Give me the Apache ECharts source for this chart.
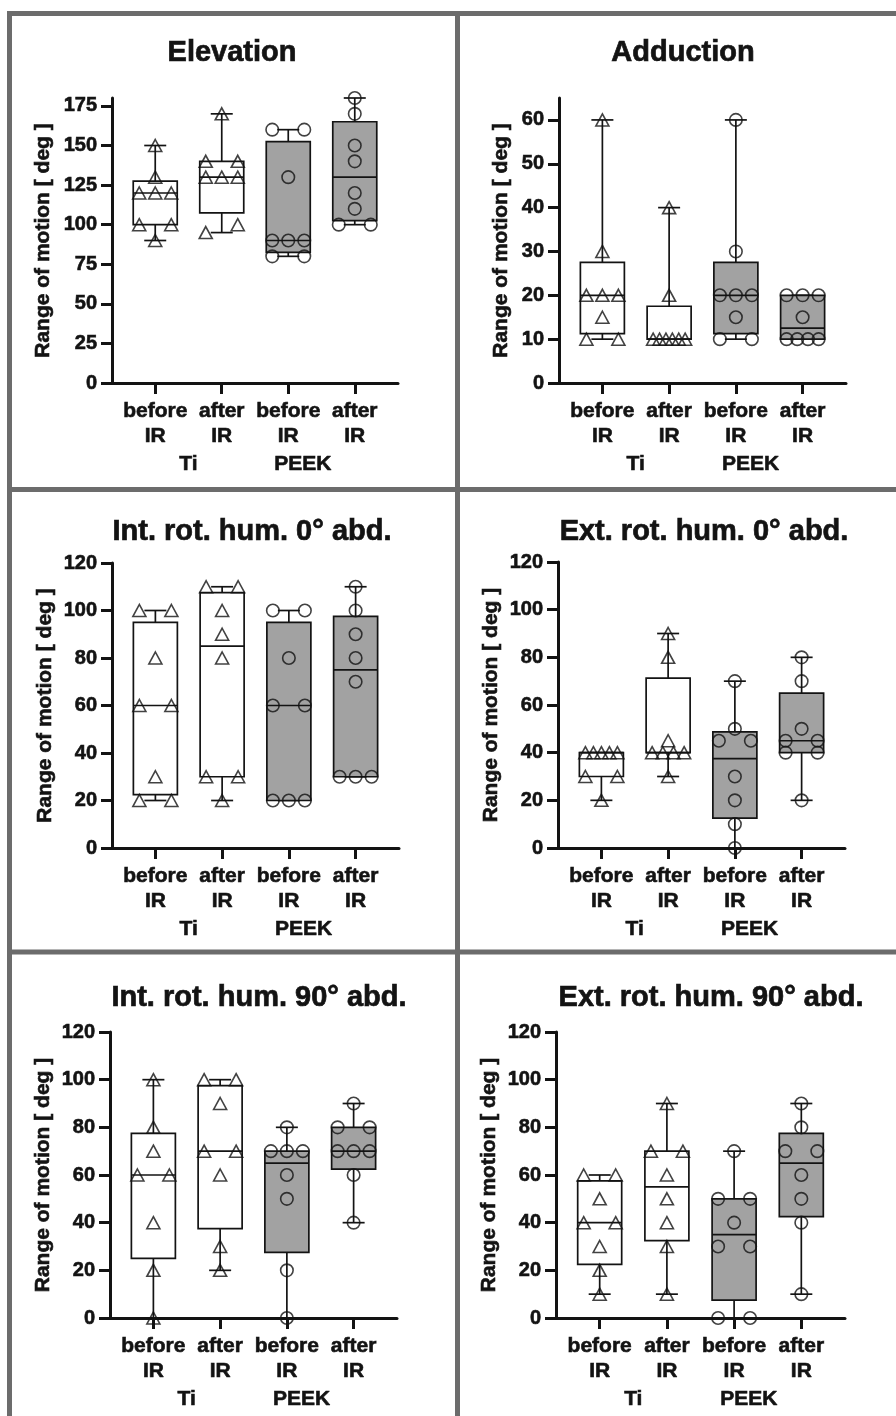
<!DOCTYPE html>
<html>
<head>
<meta charset="utf-8">
<script src="https://cdn.jsdelivr.net/npm/echarts@6/dist/echarts.min.js"></script>
<style>
html,body{margin:0;padding:0;background:#fff;}
#c{width:896px;height:1416px;}
</style>
</head>
<body>
<div id="c"></div>
<script>
// ---------- data ----------
const CATEGORIES = ['before\nIR', 'after\nIR', 'before\nIR', 'after\nIR'];
const GROUPS = ['Ti', 'PEEK'];
const TITLES = ['Elevation', 'Adduction', 'Int. rot. hum. 0\u00b0 abd.', 'Ext. rot. hum. 0\u00b0 abd.', 'Int. rot. hum. 90\u00b0 abd.', 'Ext. rot. hum. 90\u00b0 abd.'];
const Y_NAME = 'Range of motion [ deg ]';

const Y_MAX = [180, 65, 120, 120, 120, 120];
const TICKS_ELEV = [0, 25, 50, 75, 100, 125, 150, 175];
const TICKS_ADD = [0, 10, 20, 30, 40, 50, 60];
const TICKS_ROT = [0, 20, 40, 60, 80, 100, 120];

const ELEV_TI_BEFORE = [150, 130, 120, 120, 120, 100, 100, 90];
const ELEV_TI_AFTER = [170, 140, 140, 130, 130, 130, 100, 95];
const ELEV_PEEK_BEFORE = [160, 160, 130, 90, 90, 90, 80, 80];
const ELEV_PEEK_AFTER = [180, 170, 150, 140, 120, 110, 100, 100];

const ADD_TI_BEFORE = [60, 30, 20, 20, 20, 15, 10, 10];
const ADD_TI_AFTER = [40, 20, 10, 10, 10, 10, 10, 10];
const ADD_PEEK_BEFORE = [60, 30, 20, 20, 20, 15, 10, 10];
const ADD_PEEK_AFTER = [20, 20, 20, 15, 10, 10, 10, 10];

const IR0_TI_BEFORE = [100, 100, 80, 60, 60, 30, 20, 20];
const IR0_TI_AFTER = [110, 110, 100, 90, 80, 30, 30, 20];
const IR0_PEEK_BEFORE = [100, 100, 80, 60, 60, 20, 20, 20];
const IR0_PEEK_AFTER = [110, 100, 90, 80, 70, 30, 30, 30];

const ER0_TI_BEFORE = [40, 40, 40, 40, 40, 30, 30, 20];
const ER0_TI_AFTER = [90, 80, 45, 40, 40, 40, 40, 30];
const ER0_PEEK_BEFORE = [70, 50, 45, 45, 30, 20, 10, 0];
const ER0_PEEK_AFTER = [80, 70, 50, 45, 45, 40, 40, 20];

const IR90_TI_BEFORE = [100, 80, 70, 60, 60, 40, 20, 0];
const IR90_TI_AFTER = [100, 100, 90, 70, 70, 60, 30, 20];
const IR90_PEEK_BEFORE = [80, 70, 70, 70, 60, 50, 20, 0];
const IR90_PEEK_AFTER = [90, 80, 80, 70, 70, 70, 60, 40];

const ER90_TI_BEFORE = [60, 60, 50, 40, 40, 30, 20, 10];
const ER90_TI_AFTER = [90, 70, 70, 60, 50, 40, 30, 10];
const ER90_PEEK_BEFORE = [70, 50, 50, 40, 30, 30, 0, 0];
const ER90_PEEK_AFTER = [90, 80, 70, 70, 60, 50, 40, 10];

const PANELS = [
  [ELEV_TI_BEFORE, ELEV_TI_AFTER, ELEV_PEEK_BEFORE, ELEV_PEEK_AFTER],
  [ADD_TI_BEFORE, ADD_TI_AFTER, ADD_PEEK_BEFORE, ADD_PEEK_AFTER],
  [IR0_TI_BEFORE, IR0_TI_AFTER, IR0_PEEK_BEFORE, IR0_PEEK_AFTER],
  [ER0_TI_BEFORE, ER0_TI_AFTER, ER0_PEEK_BEFORE, ER0_PEEK_AFTER],
  [IR90_TI_BEFORE, IR90_TI_AFTER, IR90_PEEK_BEFORE, IR90_PEEK_AFTER],
  [ER90_TI_BEFORE, ER90_TI_AFTER, ER90_PEEK_BEFORE, ER90_PEEK_AFTER]
];
const PANEL_TICKS = [TICKS_ELEV, TICKS_ADD, TICKS_ROT, TICKS_ROT, TICKS_ROT, TICKS_ROT];

// ---------- layout ----------
const FONT = '"Liberation Sans", Arial, Helvetica, sans-serif';
const INK = '#131313';
const GRAY_FILL = '#a2a2a2';
const FRAME = '#6c6c6c';
const X_MIN = 0.35, X_MAX = 4.65;
const GRIDS = [
  {left: 112, top: 98, width: 286, height: 285},
  {left: 559, top: 98, width: 287, height: 285},
  {left: 112, top: 563, width: 287, height: 285},
  {left: 558, top: 562, width: 287, height: 286},
  {left: 110, top: 1032, width: 287, height: 286},
  {left: 556, top: 1032, width: 289, height: 286}
];
const NAME_GAP = [58, 47, 56, 56, 56, 56];
const TITLE_POS = [[232, 53], [683, 53], [252, 532], [704, 532], [259, 998], [711, 998]];
const GROUP_LABEL_X = [1.5, 3.22];
const GROUP_LABEL_DY = 81;
const BOX_W = 44, CAP_W = 22, SPREAD = 16;
const TEXT_BOLDEN = {textBorderColor: INK, textBorderWidth: 0.6};

// GraphPad-style quartiles ((n+1)p method)
function quant(sorted, p) {
  const n = sorted.length;
  const pos = (n + 1) * p;
  const lo = Math.floor(pos);
  const f = pos - lo;
  if (lo < 1) return sorted[0];
  if (lo >= n) return sorted[n - 1];
  return sorted[lo - 1] + f * (sorted[lo] - sorted[lo - 1]);
}
function boxStats(vals) {
  const s = vals.slice().sort((a, b) => a - b);
  return [s[0], quant(s, 0.25), quant(s, 0.5), quant(s, 0.75), s[s.length - 1]];
}
// spread overlapping points horizontally (layout only)
function spreadPoints(vals, cat, yMax, grid) {
  const pyu = grid.height / yMax;
  const pxu = grid.width / (X_MAX - X_MIN);
  const s = vals.slice().sort((a, b) => a - b);
  const clusters = [];
  s.forEach((v, i) => {
    if (i > 0 && (v - s[i - 1]) * pyu < 10) clusters[clusters.length - 1].push(v);
    else clusters.push([v]);
  });
  const out = [];
  clusters.forEach(cl => {
    const k = cl.length;
    cl.forEach((v, j) => {
      const off = k === 1 ? 0 : -SPREAD + 2 * SPREAD * j / (k - 1);
      out.push([cat + off / pxu, v]);
    });
  });
  return out;
}

const grid = [], xAxis = [], yAxis = [], series = [];
const axisLineStyle = {color: INK, width: 3};
PANELS.forEach((groups, p) => {
  const g = GRIDS[p];
  grid.push({left: g.left, top: g.top, width: g.width, height: g.height, containLabel: false});
  xAxis.push({
    type: 'value', gridIndex: p, min: X_MIN, max: X_MAX,
    axisLine: {show: true, onZero: false, lineStyle: axisLineStyle},
    axisTick: {show: true, customValues: [1, 2, 3, 4], length: 11, lineStyle: axisLineStyle},
    axisLabel: Object.assign({
      customValues: [1, 2, 3, 4], formatter: v => CATEGORIES[Math.round(v) - 1],
      fontSize: 21, fontWeight: 'bold', fontFamily: FONT, color: INK, lineHeight: 25, margin: 16
    }, TEXT_BOLDEN),
    splitLine: {show: false}
  });
  yAxis.push({
    type: 'value', gridIndex: p, min: 0, max: Y_MAX[p],
    axisLine: {show: true, onZero: false, lineStyle: axisLineStyle},
    axisTick: {show: true, customValues: PANEL_TICKS[p], length: 11, lineStyle: axisLineStyle},
    axisLabel: Object.assign({customValues: PANEL_TICKS[p], fontSize: 20, fontWeight: 'bold', fontFamily: FONT, color: INK, margin: 15}, TEXT_BOLDEN),
    splitLine: {show: false},
    name: Y_NAME, nameLocation: 'middle', nameRotate: 90, nameGap: NAME_GAP[p],
    nameTextStyle: Object.assign({fontSize: 21, fontWeight: 'bold', fontFamily: FONT, color: INK}, TEXT_BOLDEN)
  });
  const boxData = groups.map((vals, i) => [i + 1].concat(boxStats(vals)));
  series.push({
    type: 'custom', xAxisIndex: p, yAxisIndex: p, z: 2,
    data: boxData,
    renderItem: function (params, api) {
      const x = api.value(0);
      const cx = api.coord([x, 0])[0];
      const yMin = api.coord([x, api.value(1)])[1];
      const yQ1 = api.coord([x, api.value(2)])[1];
      const yMed = api.coord([x, api.value(3)])[1];
      const yQ3 = api.coord([x, api.value(4)])[1];
      const yMax = api.coord([x, api.value(5)])[1];
      const fill = params.dataIndex >= 2 ? GRAY_FILL : '#ffffff';
      const ls = {stroke: INK, lineWidth: 1.7};
      return {
        type: 'group',
        children: [
          {type: 'line', shape: {x1: cx, y1: yQ3, x2: cx, y2: yMax}, style: ls},
          {type: 'line', shape: {x1: cx, y1: yQ1, x2: cx, y2: yMin}, style: ls},
          {type: 'line', shape: {x1: cx - CAP_W / 2, y1: yMax, x2: cx + CAP_W / 2, y2: yMax}, style: ls},
          {type: 'line', shape: {x1: cx - CAP_W / 2, y1: yMin, x2: cx + CAP_W / 2, y2: yMin}, style: ls},
          {type: 'rect', shape: {x: cx - BOX_W / 2, y: yQ3, width: BOX_W, height: yQ1 - yQ3}, style: {fill: fill, stroke: INK, lineWidth: 1.7}},
          {type: 'line', shape: {x1: cx - BOX_W / 2, y1: yMed, x2: cx + BOX_W / 2, y2: yMed}, style: ls}
        ]
      };
    }
  });
  groups.forEach((vals, i) => {
    const isTi = i < 2;
    series.push({
      type: 'scatter', xAxisIndex: p, yAxisIndex: p, z: 5,
      symbol: isTi ? 'triangle' : 'circle',
      symbolSize: isTi ? [13, 12] : 12.5,
      itemStyle: {color: 'rgba(0,0,0,0)', borderColor: INK, borderWidth: 1.6},
      emphasis: {disabled: true},
      silent: true,
      data: spreadPoints(vals, i + 1, Y_MAX[p], g)
    });
  });
});

const chart = echarts.init(document.getElementById('c'), null, {renderer: 'canvas'});
chart.setOption({animation: false, backgroundColor: '#fff', grid, xAxis, yAxis, series});

// frame, titles and group labels
const graphic = [];
const frameStyle = {stroke: FRAME, lineWidth: 5};
[[8, 13.5, 896, 13.5], [9.5, 11, 9.5, 1416], [457.5, 11, 457.5, 1416], [8, 489.5, 896, 489.5], [8, 952, 896, 952]]
  .forEach(l => graphic.push({type: 'line', shape: {x1: l[0], y1: l[1], x2: l[2], y2: l[3]}, style: frameStyle, z: 10}));
TITLES.forEach((t, p) => graphic.push({
  type: 'text', x: TITLE_POS[p][0], y: TITLE_POS[p][1],
  style: {text: t, fontSize: 29, fontWeight: 'bold', fontFamily: FONT, fill: INK, stroke: INK, lineWidth: 0.7, align: 'center', verticalAlign: 'middle'}
}));
PANELS.forEach((_, p) => {
  GROUPS.forEach((name, k) => {
    const pt = chart.convertToPixel({gridIndex: p}, [GROUP_LABEL_X[k], 0]);
    graphic.push({
      type: 'text', x: pt[0], y: pt[1] + GROUP_LABEL_DY,
      style: {text: name, fontSize: 21, fontWeight: 'bold', fontFamily: FONT, fill: INK, stroke: INK, lineWidth: 0.6, align: 'center', verticalAlign: 'middle'}
    });
  });
});
chart.setOption({graphic: graphic});
</script>
</body>
</html>
